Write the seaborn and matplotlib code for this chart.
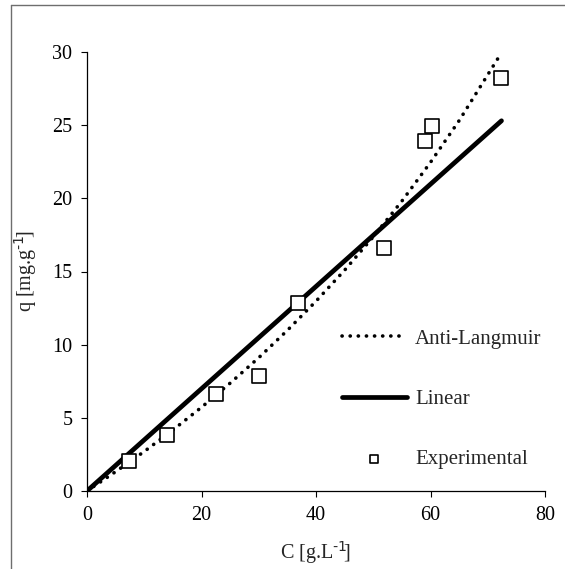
import matplotlib
matplotlib.use("Agg")
import matplotlib.pyplot as plt
from matplotlib.lines import Line2D
import seaborn as sns

# Experimental data
exp_C = [7.3, 14.0, 22.5, 30.0, 36.9, 51.9, 59.0, 60.3, 72.4]
exp_q = [2.07, 3.8, 6.63, 7.86, 12.87, 16.6, 23.9, 24.95, 28.2]

# Anti-Langmuir model curve
al_C = [0, 5, 10, 15, 20, 25, 30, 35, 40, 45, 50, 55, 60, 65, 72]
al_q = [0, 1.32, 2.70, 4.17, 5.72, 7.37, 9.11, 10.98, 12.97, 15.09, 17.37, 19.81, 22.46, 25.31, 29.70]

# Linear model
lin_C = [0, 72.4]
lin_q = [0, 25.3]

x_ticks = [0, 20, 40, 60, 80]
y_ticks = [0, 5, 10, 15, 20, 25, 30]

sns.set_style("ticks")
plt.rcParams["font.family"] = ["Liberation Serif", "DejaVu Serif"]
plt.rcParams["mathtext.default"] = "regular"

FS = 14.5
LFS = 15
W, H = 565, 569
fig = plt.figure(figsize=(W / 100, H / 100), dpi=100)
ax = fig.add_axes([87 / W, 1 - 491 / H, 458 / W, 439 / H])

sns.lineplot(x=al_C, y=al_q, ax=ax, color="black", linewidth=2.6,
             linestyle=(0, (0.05, 2.2)), dash_capstyle="round",
             label="Anti-Langmuir", sort=False)
sns.lineplot(x=lin_C, y=lin_q, ax=ax, color="black", linewidth=3.4,
             solid_capstyle="round", label="Linear", sort=False)
sns.scatterplot(x=exp_C, y=exp_q, ax=ax, marker="s", s=105,
                facecolor="white", edgecolor="black", linewidth=1.2,
                label="Experimental", zorder=5)

ax.set_xlim(0, 80)
ax.set_ylim(0, 30)
ax.set_xticks(x_ticks)
ax.set_yticks(y_ticks)
ax.tick_params(axis="both", direction="out", length=4.5, width=0.8,
               labelsize=FS, colors="black", pad=6)
for s in ["left", "bottom"]:
    ax.spines[s].set_linewidth(0.9)
    ax.spines[s].set_color("black")
sns.despine(ax=ax)

ax.set_xlabel(r"C [g.L$^{\text{-1}}\!$]", fontsize=FS)
ax.set_ylabel(r"q [mg.g$^{\text{-1}}\!$]", fontsize=FS)
ax.xaxis.set_label_coords(0.5, -0.112)
ax.yaxis.set_label_coords(-0.105, 0.5)

leg = ax.legend(loc="upper left", bbox_to_anchor=(342 / W, 1 - 329 / H),
                bbox_transform=fig.transFigure, frameon=False, fontsize=LFS,
                handlelength=3.1, handletextpad=0.4, labelspacing=1.95,
                borderpad=0, borderaxespad=0, markerscale=0.6)

# outer frame (partially visible)
fig.add_artist(Line2D([10.5 / W, 10.5 / W], [0, 1 - 5 / H], color="#6e6e6e",
                      linewidth=1.0, transform=fig.transFigure))
fig.add_artist(Line2D([10.5 / W, 1], [1 - 5 / H, 1 - 5 / H], color="#6e6e6e",
                      linewidth=1.0, transform=fig.transFigure))

fig.savefig("out.png", dpi=100)
